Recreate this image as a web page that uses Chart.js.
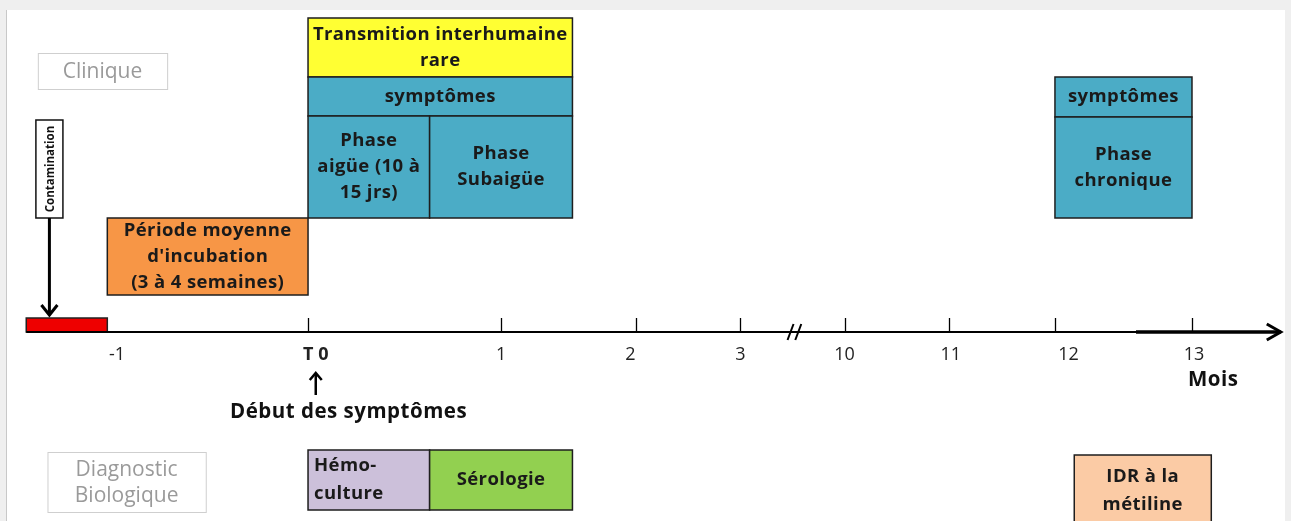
<!DOCTYPE html>
<html lang="fr">
<head>
<meta charset="utf-8">
<script src="https://cdn.jsdelivr.net/npm/chart.js@4.4.0/dist/chart.umd.min.js"></script>
<style>
  html, body { margin: 0; padding: 0; background: #efefef; }
  #wrap { position: relative; width: 1291px; height: 521px; }
</style>
</head>
<body>
<div id="wrap"><canvas id="timeline"></canvas></div>
<script>
// Axe du temps (positions le long de l'axe dessiné, T0 = 0, 1 mois = 1)
const tickAt = [0, 1, 1.70, 2.24, 2.78, 3.32, 3.87, 4.58];
const axisLabels = ['-1', 'T0', '1', '2', '3', '10', '11', '12', '13'];
const axisLabelAt = [-0.99, 0.04, 1, 1.67, 2.24, 2.78, 3.33, 3.94, 4.59];
const axisStart = -1.46, axisEnd = 5.04, axisBreak = 2.52;

// Boîtes (début, fin sur l'axe du temps ; haut, bas sur l'axe vertical)
const boxText = [
  'Transmition interhumaine\nrare', 'symptômes', 'Phase\naigüe (10 à\n15 jrs)', 'Phase\nSubaigüe',
  'symptômes', 'Phase\nchronique', "Période moyenne\nd'incubation\n(3 à 4 semaines)",
  'Hémo-\nculture', 'Sérologie', 'IDR à la\nmétiline'
];
const boxFrom   = [0, 0, 0, 0.63, 3.87, 3.87, -1.04, 0, 0.63, 3.97];
const boxTo     = [1.37, 1.37, 0.63, 1.37, 4.58, 4.58, 0, 0.63, 1.37, 4.68];
const boxTop    = [31.4, 25.5, 21.6, 21.6, 25.5, 21.5, 11.4, -11.8, -11.8, -12.3];
const boxBottom = [25.5, 21.6, 11.4, 11.4, 21.5, 11.4, 3.7, -17.8, -17.8, -19.5];
const boxKind   = ['yellow', 'blue', 'blue', 'blue', 'blue', 'blue', 'orange', 'lilac', 'green', 'peach'];

// Contamination (barre rouge)
const contamination = { from: -1.46, to: -1.04, top: 1.4, bottom: 0 };

// Étiquettes de rubriques
const sectionText = ['Clinique', 'Diagnostic\nBiologique'];
const sectionFrom = [-1.40, -1.35];
const sectionTo = [-0.73, -0.53];
const sectionTop = [27.9, -12.0];
const sectionBottom = [24.3, -18.0];

const colors = {
  yellow: '#ffff33', blue: '#4bacc6', orange: '#f79646',
  lilac: '#ccc0da', green: '#92d050', peach: '#fbcba5'
};
const FONT = '"Open Sans", "DejaVu Sans", sans-serif';

// Dessin du schéma à partir des échelles de Chart.js
const timelinePlugin = {
  id: 'timeline',
  beforeDraw(chart) {
    const c = chart.ctx, w = chart.width, h = chart.height;
    c.save();
    c.fillStyle = '#efefef';
    c.fillRect(0, 0, w, h);
    c.fillStyle = '#ffffff';
    c.fillRect(7, 10, w - 13, h - 10);
    c.fillStyle = '#c8c8c8';
    c.fillRect(6, 10, 1, h - 10);
    c.restore();
  },
  afterDraw(chart) {
    const c = chart.ctx;
    const X = v => chart.scales.x.getPixelForValue(v);
    const Y = v => chart.scales.y.getPixelForValue(v);

    function lines(text, cx, cy, lh, align, lx) {
      const parts = text.split('\n');
      const y0 = cy - (parts.length - 1) * lh / 2;
      c.textAlign = align || 'center';
      parts.forEach((p, i) => c.fillText(p, align === 'left' ? lx : cx, y0 + i * lh));
    }

    c.save();
    c.textBaseline = 'middle';

    // rubriques
    sectionText.forEach((t, i) => {
      const x0 = X(sectionFrom[i]), x1 = X(sectionTo[i]), y0 = Y(sectionTop[i]), y1 = Y(sectionBottom[i]);
      c.strokeStyle = '#cfcfcf'; c.lineWidth = 1;
      c.strokeRect(x0 + 0.5, y0 + 0.5, x1 - x0, y1 - y0);
      c.fillStyle = '#9a9a9a';
      c.font = '21px ' + FONT;
      lines(t, (x0 + x1) / 2, (y0 + y1) / 2 + 1, 26);
    });

    // boîtes
    c.letterSpacing = '0.4px';
    boxText.forEach((t, i) => {
      const x0 = X(boxFrom[i]), x1 = X(boxTo[i]), y0 = Y(boxTop[i]), y1 = Y(boxBottom[i]);
      c.fillStyle = colors[boxKind[i]];
      c.fillRect(x0, y0, x1 - x0, y1 - y0);
      c.strokeStyle = '#1e1e1e'; c.lineWidth = 1.5;
      c.strokeRect(x0, y0, x1 - x0, y1 - y0);
      c.fillStyle = '#1a1a1a';
      c.font = 'bold 18.5px ' + FONT;
      if (boxKind[i] === 'lilac') lines(t, 0, (y0 + y1) / 2, 28, 'left', x0 + 6);
      else lines(t, (x0 + x1) / 2, (y0 + y1) / 2, boxKind[i] === 'peach' ? 28 : 26);
    });
    c.letterSpacing = '0px';

    // barre rouge
    {
      const x0 = X(contamination.from), x1 = X(contamination.to);
      const y0 = Y(contamination.top), y1 = Y(contamination.bottom);
      c.fillStyle = '#ee0000';
      c.fillRect(x0, y0, x1 - x0, y1 - y0);
      c.strokeStyle = '#222'; c.lineWidth = 1.5;
      c.strokeRect(x0, y0, x1 - x0, y1 - y0);
    }

    // étiquette Contamination + flèche
    {
      const x0 = X(-1.41), x1 = X(-1.27), y0 = Y(21.2), y1 = Y(11.4);
      c.fillStyle = '#fff'; c.fillRect(x0, y0, x1 - x0, y1 - y0);
      c.strokeStyle = '#111'; c.lineWidth = 1.5;
      c.strokeRect(x0, y0, x1 - x0, y1 - y0);
      c.save();
      c.translate((x0 + x1) / 2, (y0 + y1) / 2);
      c.rotate(-Math.PI / 2);
      c.fillStyle = '#111';
      c.font = 'bold 11.5px ' + FONT;
      c.textAlign = 'center';
      c.fillText('Contamination', 0, 1);
      c.restore();
      const ax = X(-1.34), ay0 = Y(11.4), ay1 = Y(1.7);
      c.strokeStyle = '#000'; c.lineWidth = 3;
      c.beginPath(); c.moveTo(ax, ay0); c.lineTo(ax, ay1); c.stroke();
      c.beginPath(); c.moveTo(ax - 8, ay1 - 10); c.lineTo(ax, ay1); c.lineTo(ax + 8, ay1 - 10); c.stroke();
    }

    // axe
    const ya = Y(0);
    c.strokeStyle = '#000'; c.lineWidth = 2;
    c.beginPath(); c.moveTo(X(axisStart), ya); c.lineTo(X(axisEnd), ya); c.stroke();
    c.lineWidth = 3.5;
    c.beginPath(); c.moveTo(X(4.29), ya); c.lineTo(X(axisEnd), ya); c.stroke();
    c.lineWidth = 3;
    c.beginPath(); c.moveTo(X(axisEnd) - 14, ya - 8); c.lineTo(X(axisEnd), ya); c.lineTo(X(axisEnd) - 14, ya + 8); c.stroke();
    // coupure
    c.lineWidth = 2;
    [-0.02, 0.02].forEach(d => {
      const bx = X(axisBreak + d);
      c.beginPath(); c.moveTo(bx - 3, ya + 8); c.lineTo(bx + 3, ya - 8); c.stroke();
    });
    // graduations
    c.lineWidth = 1.3;
    tickAt.forEach(v => {
      const tx = Math.round(X(v)) + 0.5;
      c.beginPath(); c.moveTo(tx, Y(1.4)); c.lineTo(tx, ya); c.stroke();
    });
    axisLabels.forEach((t, i) => {
      c.fillStyle = '#222';
      c.font = (t === 'T0' ? 'bold ' : '') + '18px ' + FONT;
      c.textAlign = 'center';
      c.fillText(t === 'T0' ? 'T 0' : t, X(axisLabelAt[i]), Y(-2.3));
    });
    c.letterSpacing = '0.5px';
    c.fillStyle = '#111';
    c.font = 'bold 20.5px ' + FONT;
    c.fillText('Mois', X(4.69), Y(-4.8));

    // début des symptômes
    const ux = X(0.04);
    c.strokeStyle = '#000'; c.lineWidth = 2.5;
    c.beginPath(); c.moveTo(ux, Y(-6.3)); c.lineTo(ux, Y(-4.1)); c.stroke();
    c.beginPath(); c.moveTo(ux - 6, Y(-4.8)); c.lineTo(ux, Y(-4.1)); c.lineTo(ux + 6, Y(-4.8)); c.stroke();
    c.fillStyle = '#111';
    c.font = 'bold 20.5px ' + FONT;
    c.fillText('Début des symptômes', X(0.21), Y(-8.0));
    c.letterSpacing = '0px';

    c.restore();
  }
};

new Chart(document.getElementById('timeline'), {
  type: 'scatter',
  data: { datasets: [] },
  options: {
    responsive: true,
    maintainAspectRatio: false,
    animation: false,
    layout: { padding: 0 },
    plugins: { legend: { display: false }, tooltip: { enabled: false } },
    scales: {
      x: { type: 'linear', min: -1.596, max: 5.093, display: false },
      y: { type: 'linear', min: -18.9, max: 33.2, display: false }
    }
  },
  plugins: [timelinePlugin]
});
</script>
</body>
</html>
